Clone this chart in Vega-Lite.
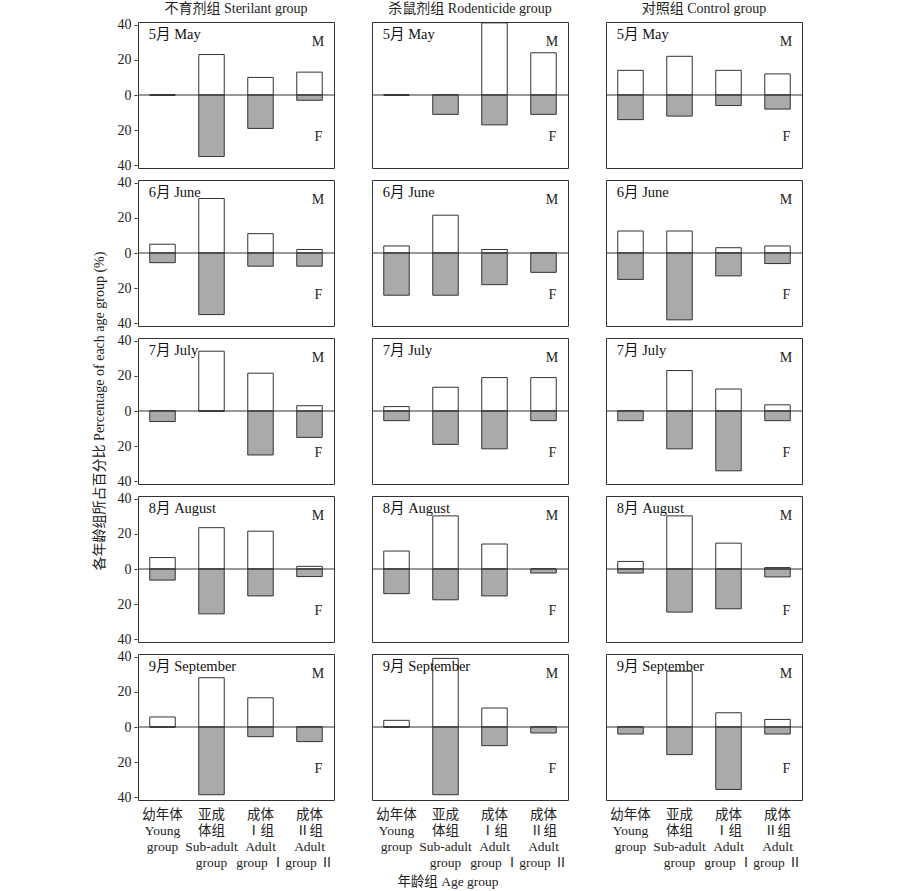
{
  "$schema": "https://vega.github.io/schema/vega-lite/v6.json",
  "padding": {"left": 92, "top": 2, "right": 5, "bottom": 2},
  "background": "white",
  "title": {"text": "年龄组 Age group", "orient": "bottom", "anchor": "middle", "fontSize": 13.5, "fontWeight": "normal", "font": "Liberation Serif, Noto Sans CJK SC", "color": "#222", "offset": 6},
  "data": {"values": [
    {"month": "5月 May", "group": "不育剂组 Sterilant group", "age": "Young", "male": 0, "female": 0},
    {"month": "5月 May", "group": "不育剂组 Sterilant group", "age": "Sub-adult", "male": 23, "female": -35},
    {"month": "5月 May", "group": "不育剂组 Sterilant group", "age": "Adult I", "male": 10, "female": -19},
    {"month": "5月 May", "group": "不育剂组 Sterilant group", "age": "Adult II", "male": 13, "female": -3},
    {"month": "5月 May", "group": "杀鼠剂组 Rodenticide group", "age": "Young", "male": 0, "female": 0},
    {"month": "5月 May", "group": "杀鼠剂组 Rodenticide group", "age": "Sub-adult", "male": 0, "female": -11},
    {"month": "5月 May", "group": "杀鼠剂组 Rodenticide group", "age": "Adult I", "male": 41, "female": -17},
    {"month": "5月 May", "group": "杀鼠剂组 Rodenticide group", "age": "Adult II", "male": 24, "female": -11},
    {"month": "5月 May", "group": "对照组 Control group", "age": "Young", "male": 14, "female": -14},
    {"month": "5月 May", "group": "对照组 Control group", "age": "Sub-adult", "male": 22, "female": -12},
    {"month": "5月 May", "group": "对照组 Control group", "age": "Adult I", "male": 14, "female": -6},
    {"month": "5月 May", "group": "对照组 Control group", "age": "Adult II", "male": 12, "female": -8},

    {"month": "6月 June", "group": "不育剂组 Sterilant group", "age": "Young", "male": 5, "female": -5.5},
    {"month": "6月 June", "group": "不育剂组 Sterilant group", "age": "Sub-adult", "male": 31, "female": -35},
    {"month": "6月 June", "group": "不育剂组 Sterilant group", "age": "Adult I", "male": 11, "female": -7.5},
    {"month": "6月 June", "group": "不育剂组 Sterilant group", "age": "Adult II", "male": 2, "female": -7.5},
    {"month": "6月 June", "group": "杀鼠剂组 Rodenticide group", "age": "Young", "male": 4, "female": -24},
    {"month": "6月 June", "group": "杀鼠剂组 Rodenticide group", "age": "Sub-adult", "male": 21.5, "female": -24},
    {"month": "6月 June", "group": "杀鼠剂组 Rodenticide group", "age": "Adult I", "male": 2, "female": -18},
    {"month": "6月 June", "group": "杀鼠剂组 Rodenticide group", "age": "Adult II", "male": 0, "female": -11},
    {"month": "6月 June", "group": "对照组 Control group", "age": "Young", "male": 12.5, "female": -15},
    {"month": "6月 June", "group": "对照组 Control group", "age": "Sub-adult", "male": 12.5, "female": -38},
    {"month": "6月 June", "group": "对照组 Control group", "age": "Adult I", "male": 3, "female": -13},
    {"month": "6月 June", "group": "对照组 Control group", "age": "Adult II", "male": 4, "female": -6},

    {"month": "7月 July", "group": "不育剂组 Sterilant group", "age": "Young", "male": 0, "female": -6},
    {"month": "7月 July", "group": "不育剂组 Sterilant group", "age": "Sub-adult", "male": 34, "female": 0},
    {"month": "7月 July", "group": "不育剂组 Sterilant group", "age": "Adult I", "male": 21.5, "female": -25},
    {"month": "7月 July", "group": "不育剂组 Sterilant group", "age": "Adult II", "male": 3, "female": -15},
    {"month": "7月 July", "group": "杀鼠剂组 Rodenticide group", "age": "Young", "male": 2.5, "female": -5.5},
    {"month": "7月 July", "group": "杀鼠剂组 Rodenticide group", "age": "Sub-adult", "male": 13.5, "female": -19},
    {"month": "7月 July", "group": "杀鼠剂组 Rodenticide group", "age": "Adult I", "male": 19, "female": -21.5},
    {"month": "7月 July", "group": "杀鼠剂组 Rodenticide group", "age": "Adult II", "male": 19, "female": -5.5},
    {"month": "7月 July", "group": "对照组 Control group", "age": "Young", "male": 0, "female": -5.5},
    {"month": "7月 July", "group": "对照组 Control group", "age": "Sub-adult", "male": 23, "female": -21.5},
    {"month": "7月 July", "group": "对照组 Control group", "age": "Adult I", "male": 12.5, "female": -34},
    {"month": "7月 July", "group": "对照组 Control group", "age": "Adult II", "male": 3.5, "female": -5.5},

    {"month": "8月 August", "group": "不育剂组 Sterilant group", "age": "Young", "male": 6.5, "female": -6.3},
    {"month": "8月 August", "group": "不育剂组 Sterilant group", "age": "Sub-adult", "male": 23.5, "female": -25.5},
    {"month": "8月 August", "group": "不育剂组 Sterilant group", "age": "Adult I", "male": 21.5, "female": -15.3},
    {"month": "8月 August", "group": "不育剂组 Sterilant group", "age": "Adult II", "male": 1.5, "female": -4.3},
    {"month": "8月 August", "group": "杀鼠剂组 Rodenticide group", "age": "Young", "male": 10.2, "female": -14},
    {"month": "8月 August", "group": "杀鼠剂组 Rodenticide group", "age": "Sub-adult", "male": 30.2, "female": -17.5},
    {"month": "8月 August", "group": "杀鼠剂组 Rodenticide group", "age": "Adult I", "male": 14.2, "female": -15.3},
    {"month": "8月 August", "group": "杀鼠剂组 Rodenticide group", "age": "Adult II", "male": 0, "female": -2.3},
    {"month": "8月 August", "group": "对照组 Control group", "age": "Young", "male": 4.3, "female": -2.3},
    {"month": "8月 August", "group": "对照组 Control group", "age": "Sub-adult", "male": 30.2, "female": -24.5},
    {"month": "8月 August", "group": "对照组 Control group", "age": "Adult I", "male": 14.7, "female": -22.6},
    {"month": "8月 August", "group": "对照组 Control group", "age": "Adult II", "male": 0.8, "female": -4.5},

    {"month": "9月 September", "group": "不育剂组 Sterilant group", "age": "Young", "male": 5.7, "female": 0},
    {"month": "9月 September", "group": "不育剂组 Sterilant group", "age": "Sub-adult", "male": 28, "female": -38.5},
    {"month": "9月 September", "group": "不育剂组 Sterilant group", "age": "Adult I", "male": 16.6, "female": -5.5},
    {"month": "9月 September", "group": "不育剂组 Sterilant group", "age": "Adult II", "male": 0, "female": -8.3},
    {"month": "9月 September", "group": "杀鼠剂组 Rodenticide group", "age": "Young", "male": 3.8, "female": 0},
    {"month": "9月 September", "group": "杀鼠剂组 Rodenticide group", "age": "Sub-adult", "male": 39, "female": -38.5},
    {"month": "9月 September", "group": "杀鼠剂组 Rodenticide group", "age": "Adult I", "male": 10.8, "female": -10.6},
    {"month": "9月 September", "group": "杀鼠剂组 Rodenticide group", "age": "Adult II", "male": 0, "female": -3.4},
    {"month": "9月 September", "group": "对照组 Control group", "age": "Young", "male": 0, "female": -4},
    {"month": "9月 September", "group": "对照组 Control group", "age": "Sub-adult", "male": 31.7, "female": -15.7},
    {"month": "9月 September", "group": "对照组 Control group", "age": "Adult I", "male": 8.1, "female": -35.5},
    {"month": "9月 September", "group": "对照组 Control group", "age": "Adult II", "male": 4.3, "female": -4}
  ]},
  "facet": {
    "row": {"field": "month", "type": "nominal", "sort": ["5月 May", "6月 June", "7月 July", "8月 August", "9月 September"],
      "header": {"title": "各年龄组所占百分比 Percentage of each age group (%)", "labels": false, "titleFontSize": 14, "titleFontWeight": "normal", "titleFont": "Liberation Serif, Noto Sans CJK SC", "titleColor": "#222", "titlePadding": 0}},
    "column": {"field": "group", "type": "nominal", "sort": ["不育剂组 Sterilant group", "杀鼠剂组 Rodenticide group", "对照组 Control group"],
      "header": {"title": null, "labelFontSize": 14, "labelFont": "Liberation Serif, Noto Sans CJK SC", "labelColor": "#222", "labelPadding": 5}}
  },
  "spacing": {"row": 10, "column": 36},
  "spec": {
    "width": 196,
    "height": 146,
    "layer": [
      {
        "mark": {"type": "bar", "fill": "white", "stroke": "#333", "strokeWidth": 1},
        "encoding": {
          "x": {"field": "age", "type": "nominal", "sort": ["Young", "Sub-adult", "Adult I", "Adult II"], "scale": {"paddingInner": 0.48, "paddingOuter": 0.24}, "title": null},
          "y": {"field": "male", "type": "quantitative", "scale": {"domain": [-41.5, 41.5], "nice": false, "zero": false}, "title": null}
        }
      },
      {
        "mark": {"type": "bar", "fill": "#aaaaac", "stroke": "#333", "strokeWidth": 1},
        "encoding": {
          "x": {"field": "age", "type": "nominal", "sort": ["Young", "Sub-adult", "Adult I", "Adult II"], "title": null},
          "y": {"field": "female", "type": "quantitative", "title": null}
        }
      },
      {
        "transform": [{"filter": "datum.age == 'Young'"}],
        "mark": {"type": "rule", "color": "#333", "strokeWidth": 1},
        "encoding": {"y": {"datum": 0, "type": "quantitative", "title": null}}
      },
      {
        "transform": [{"filter": "datum.age == 'Young'"}],
        "mark": {"type": "text", "align": "left", "baseline": "middle", "fontSize": 14.5, "fontWeight": "normal", "dx": -1, "color": "#111"},
        "encoding": {
          "x": {"field": "age", "type": "nominal", "sort": ["Young", "Sub-adult", "Adult I", "Adult II"], "bandPosition": 0, "title": null},
          "y": {"datum": 34, "type": "quantitative", "title": null},
          "text": {"field": "month"}
        }
      },
      {
        "transform": [{"filter": "datum.age == 'Adult II'"}],
        "mark": {"type": "text", "align": "right", "baseline": "middle", "fontSize": 14, "text": "M", "dx": 2, "color": "#222"},
        "encoding": {
          "x": {"field": "age", "type": "nominal", "sort": ["Young", "Sub-adult", "Adult I", "Adult II"], "bandPosition": 1, "title": null},
          "y": {"datum": 30, "type": "quantitative", "title": null}
        }
      },
      {
        "transform": [{"filter": "datum.age == 'Adult II'"}],
        "mark": {"type": "text", "align": "right", "baseline": "middle", "fontSize": 14, "text": "F", "dx": 0, "color": "#222"},
        "encoding": {
          "x": {"field": "age", "type": "nominal", "sort": ["Young", "Sub-adult", "Adult I", "Adult II"], "bandPosition": 1, "title": null},
          "y": {"datum": -24, "type": "quantitative", "title": null}
        }
      }
    ]
  },
  "config": {
    "font": "Liberation Serif, Noto Sans CJK SC",
    "view": {"stroke": "#333", "strokeWidth": 1},
    "text": {"font": "Liberation Serif, Noto Sans CJK SC"},
    "axisY": {"values": [-40, -20, 0, 20, 40], "labelExpr": "abs(datum.value)", "grid": false, "domain": false, "ticks": true, "tickSize": 3, "tickColor": "#333", "labelFontSize": 14, "labelColor": "#222", "labelFont": "Liberation Serif, Noto Sans CJK SC", "labelPadding": 3},
    "axisX": {"labelAngle": 0, "ticks": false, "domain": false, "grid": false, "labelFontSize": 13.5, "labelColor": "#222", "labelFont": "Liberation Serif, Noto Sans CJK SC", "labelBaseline": "top", "labelLineHeight": 16, "labelPadding": 6,
      "labelExpr": "datum.label == 'Young' ? ['幼年体','Young','group'] : datum.label == 'Sub-adult' ? ['亚成','体组','Sub-adult','group'] : datum.label == 'Adult I' ? ['成体','Ⅰ组','Adult','group Ⅰ'] : ['成体','Ⅱ组','Adult','group Ⅱ']"}
  }
}
